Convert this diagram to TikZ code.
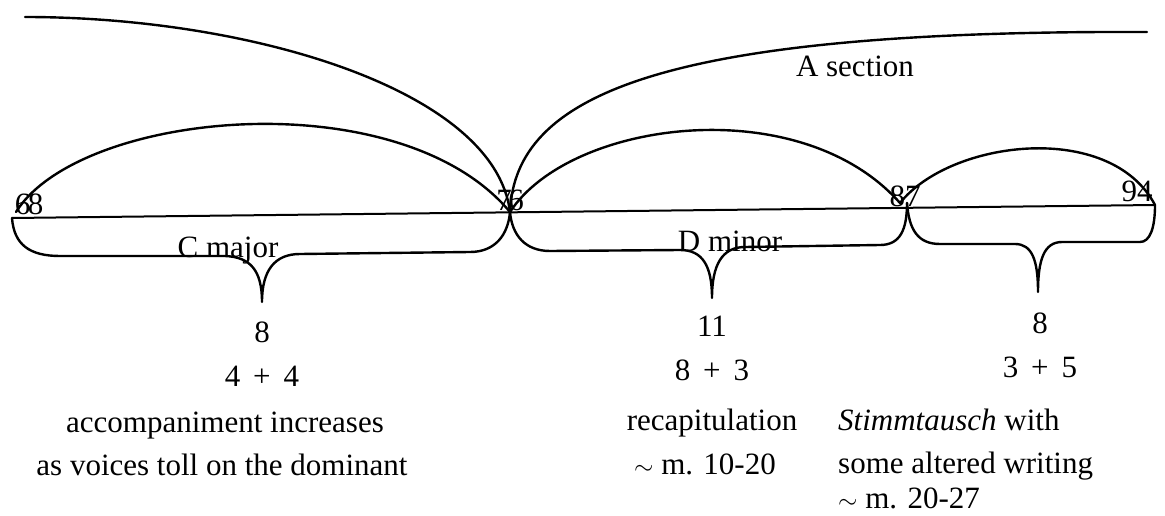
\documentclass[tikz,border=0pt]{standalone}
\usepackage{fontspec}
\setmainfont{Liberation Serif}
\begin{document}
\begin{tikzpicture}[x=1pt,y=-1pt,line cap=round,line join=round,
  lbl/.style={inner sep=0pt,font=\fontsize{31}{36}\selectfont},
  num/.style={lbl,anchor=base},
  txt/.style={lbl,anchor=base},
  arcline/.style={draw=black,line width=2.4pt},
  bracel/.style={draw=black,line width=2.4pt},
  axis/.style={draw=black,line width=2pt}]
\useasboundingbox (0,0) rectangle (1165,516);
\fill[white] (0,0) rectangle (1165,516);

% key points on the time line
\coordinate (L)   at (12,218);
\coordinate (R)   at (1155,205);
\coordinate (p68) at (16,212);
\coordinate (p76) at (510,212);
\coordinate (p87) at (900,203);
\coordinate (p94) at (1155,205);
\coordinate (As)  at (25,17);
\coordinate (Ae)  at (1147,32);
\coordinate (tip1) at (262,302);
\coordinate (tip2) at (712,298);
\coordinate (tip3) at (1038,292);
\coordinate (k87) at (907,203);

% time line
\draw[axis] (L) -- (R);

% A section arcs
\draw[arcline] (As) .. controls (250,17) and (495,90) .. (p76);
\draw[arcline] (p76) .. controls (515,95) and (660,30) .. (Ae);

% phrase arcs
\draw[arcline] (p68) .. controls (80,110) and (400,80) .. (p76);
\draw[arcline] (p76) .. controls (570,120) and (800,90) .. (p87);
\draw[arcline] (p87) .. controls (950,140) and (1110,120) .. (p94);

% braces
\draw[bracel] (L) .. controls (14,245) and (30,256) .. (60,256) -- (225,256)
  .. controls (250,257) and (262,270) .. (tip1)
  .. controls (262,270) and (275,254) .. (300,254) -- (470,252)
  .. controls (495,252) and (508,235) .. (p76);
\draw[bracel] (p76) .. controls (512,235) and (525,251) .. (550,251) -- (680,250)
  .. controls (702,250) and (712,265) .. (tip2)
  .. controls (712,265) and (722,247) .. (745,247) -- (880,245)
  .. controls (900,245) and (907,230) .. (k87);
\draw[bracel] (k87) .. controls (909,230) and (918,244) .. (940,244) -- (1015,244)
  .. controls (1032,244) and (1038,260) .. (tip3)
  .. controls (1038,260) and (1044,242) .. (1062,242) -- (1140,242)
  .. controls (1150,242) and (1155,228) .. (R);

% measure numbers
\node[num] (t68) at (29,214) {6\kern-2.5pt8};
\node[num] (t76) at (510,210) {7\kern-3.5pt6};
\node[num] (t87) at (905,207) {87};
\node[num] (t94) at (1137,201) {94};

% labels
\node[lbl] (asec) at (855,66) {A section};
\node[txt] (cmaj) at (228,257) {C major};
\node[txt] (dmin) at (730,251) {D minor};

% left block
\node[num] (a1) at (262,342) {8};
\node[num] (a2) at (262,386) {4 \,+\, 4};
\node[txt] (a3) at (225,432) {accompaniment increases};
\node[txt] (a4) at (222,475) {as voices toll on the dominant};

% middle block
\node[num] (b1) at (712,336) {11};
\node[num] (b2) at (712,380) {8 \,+\, 3};
\node[txt] (b3) at (712,430) {recapitulation};
\node[txt,anchor=base west] (b4) at (634,474) {$\sim$ m. 10-20};

% right block
\node[num] (c1) at (1040,333) {8};
\node[num] (c2) at (1040,377) {3 \,+\, 5};
\node[txt,anchor=base west] (c3) at (838,430) {\textit{Stimmtausch} with};
\node[txt,anchor=base west] (c4) at (838,473) {some altered writing};
\node[txt,anchor=base west] (c5) at (838,508) {$\sim$ m. 20-27};
\end{tikzpicture}
\end{document}
